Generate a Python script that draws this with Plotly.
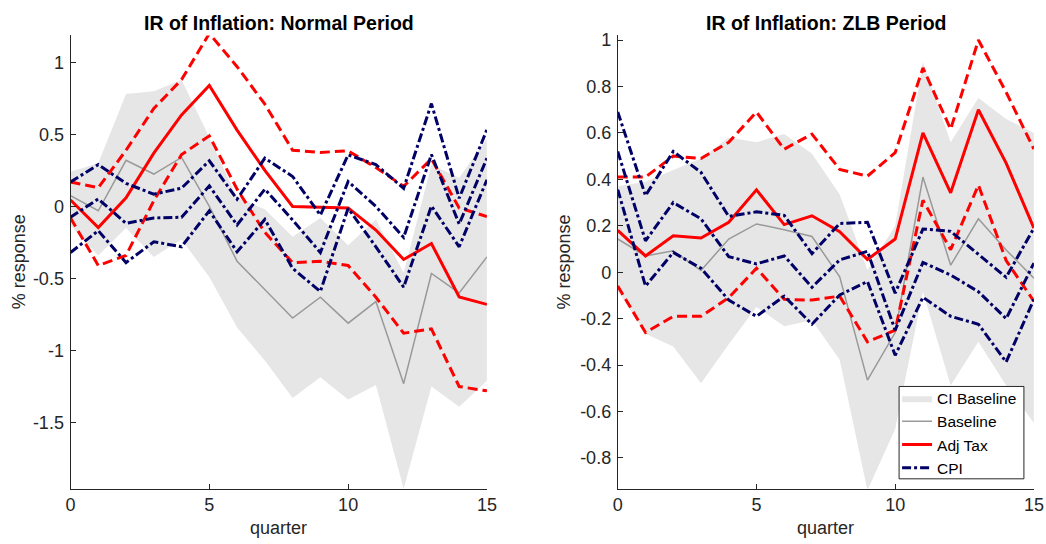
import plotly.graph_objects as go

quarters = list(range(16))

# ---------- Normal period (left) ----------
ci_up_n = [0.24, 0.30, 0.78, 0.80, 0.88, 0.48, 0.06, -0.02, -0.21, -0.08, -0.27, -0.09, -0.46, 0.29, 0.20, 0.47]
ci_lo_n = [-0.13, -0.34, -0.15, -0.35, -0.23, -0.49, -0.84, -1.07, -1.33, -1.185, -1.34, -1.24, -1.96, -1.25, -1.39, -1.21]
baseline_n = [0.075, -0.03, 0.32, 0.225, 0.34, 0.0, -0.38, -0.58, -0.775, -0.63, -0.81, -0.66, -1.23, -0.465, -0.60, -0.35]
adj_n = [0.045, -0.147, 0.06, 0.37, 0.635, 0.84, 0.53, 0.25, 0.0, -0.006, -0.01, -0.164, -0.368, -0.257, -0.628, -0.68]
adj_up_n = [0.17, 0.13, 0.39, 0.68, 0.88, 1.2, 0.97, 0.71, 0.39, 0.375, 0.386, 0.27, 0.14, 0.33, -0.01, -0.07]
adj_lo_n = [-0.08, -0.41, -0.34, 0.04, 0.36, 0.49, 0.12, -0.18, -0.39, -0.38, -0.41, -0.63, -0.88, -0.85, -1.25, -1.28]
cpi_up_n = [0.17, 0.29, 0.16, 0.085, 0.127, 0.317, 0.05, 0.335, 0.208, -0.06, 0.358, 0.29, 0.126, 0.714, 0.057, 0.533]
cpi_n = [-0.075, 0.052, -0.117, -0.08, -0.075, 0.143, -0.129, 0.12, -0.094, -0.32, 0.173, 0.0, -0.215, 0.36, -0.122, 0.335]
cpi_lo_n = [-0.32, -0.168, -0.39, -0.245, -0.28, -0.03, -0.315, -0.09, -0.43, -0.59, -0.013, -0.28, -0.56, 0.003, -0.28, 0.185]

# ---------- ZLB period (right) ----------
ci_up_z = [0.37, 0.39, 0.44, 0.49, 0.58, 0.56, 0.595, 0.51, 0.335, 0.01, 0.20, 0.905, 0.56, 0.75, 0.66, 0.60]
ci_lo_z = [-0.08, -0.265, -0.32, -0.478, -0.31, -0.15, -0.233, -0.207, -0.377, -0.94, -0.675, -0.084, -0.488, -0.30, -0.488, -0.65]
baseline_z = [0.143, 0.07, 0.092, 0.007, 0.143, 0.208, 0.183, 0.154, -0.02, -0.465, -0.26, 0.41, 0.03, 0.23, 0.096, -0.026]
adj_z = [0.18, 0.07, 0.157, 0.147, 0.215, 0.355, 0.205, 0.243, 0.174, 0.055, 0.143, 0.60, 0.342, 0.70, 0.47, 0.19]
adj_up_z = [0.41, 0.41, 0.50, 0.49, 0.56, 0.69, 0.53, 0.595, 0.443, 0.414, 0.515, 0.88, 0.616, 1.0, 0.775, 0.53]
adj_lo_z = [-0.06, -0.26, -0.19, -0.19, -0.11, 0.017, -0.117, -0.12, -0.103, -0.30, -0.25, 0.31, 0.097, 0.375, 0.05, -0.125]
cpi_up_z = [0.69, 0.33, 0.52, 0.43, 0.24, 0.26, 0.245, 0.08, 0.21, 0.215, -0.09, 0.186, 0.176, 0.075, -0.022, 0.19]
cpi_z = [0.52, 0.135, 0.30, 0.23, 0.067, 0.036, 0.07, -0.065, 0.053, 0.09, -0.25, 0.042, -0.012, -0.084, -0.2, 0.039]
cpi_lo_z = [0.356, -0.06, 0.085, 0.017, -0.12, -0.19, -0.103, -0.224, -0.098, -0.04, -0.358, -0.108, -0.19, -0.224, -0.387, -0.117]

# ---------- ticks / labels ----------
xticks = [0, 5, 10, 15]
yticks_n = [1, 0.5, 0, -0.5, -1, -1.5]
yticklabels_n = ["1", "0.5", "0", "-0.5", "-1", "-1.5"]
yticks_z = [1, 0.8, 0.6, 0.4, 0.2, 0, -0.2, -0.4, -0.6, -0.8]
yticklabels_z = ["1", "0.8", "0.6", "0.4", "0.2", "0", "-0.2", "-0.4", "-0.6", "-0.8"]
titles = ["IR of Inflation: Normal Period", "IR of Inflation: ZLB Period"]
ylabel = "% response"
xlabel = "quarter"
legend_names = ["CI Baseline", "Baseline", "Adj Tax", "CPI"]

W, H = 1046, 544
FONT = "Liberation Sans, Arial, Helvetica, sans-serif"
AX = "#262626"
GRAYFILL = "#e6e6e6"
GRAYLINE = "#999999"
RED = "#ff0000"
NAVY = "#000066"
RED_DASH = "10px,5px"
NAVY_DASH = "9px,3px,3px,3px"

# map target screen pixels -> layout pixels (compensates the page capture offset/scale)
S, OX, OY = 0.987, 3.7, 6.0
def px(x):
    return (x - OX) / S / W
def py(y):
    return 1 - (y - OY) / S / H

fig = go.Figure()

panels = [
    (ci_up_n, ci_lo_n, baseline_n, adj_n, adj_up_n, adj_lo_n, cpi_up_n, cpi_n, cpi_lo_n, "x", "y", False),
    (ci_up_z, ci_lo_z, baseline_z, adj_z, adj_up_z, adj_lo_z, cpi_up_z, cpi_z, cpi_lo_z, "x2", "y2", True),
]

for (ciu, cil, base, adj, adju, adjl, cu, cm, cl, xa, ya, leg) in panels:
    fig.add_trace(go.Scatter(
        x=quarters + quarters[::-1], y=ciu + cil[::-1], fill="toself",
        fillcolor=GRAYFILL, line=dict(width=0, color=GRAYFILL), mode="lines",
        name=legend_names[0], showlegend=leg, legendrank=1, xaxis=xa, yaxis=ya, hoverinfo="skip"))
    fig.add_trace(go.Scatter(
        x=quarters, y=base, mode="lines", line=dict(color=GRAYLINE, width=1.5),
        name=legend_names[1], showlegend=leg, legendrank=2, xaxis=xa, yaxis=ya))
    fig.add_trace(go.Scatter(
        x=quarters, y=adj, mode="lines", line=dict(color=RED, width=3),
        name=legend_names[2], showlegend=leg, legendrank=3, xaxis=xa, yaxis=ya))
    for s in (adju, adjl):
        fig.add_trace(go.Scatter(
            x=quarters, y=s, mode="lines", line=dict(color=RED, width=3, dash=RED_DASH),
            showlegend=False, xaxis=xa, yaxis=ya))
    for i, s in enumerate((cm, cu, cl)):
        fig.add_trace(go.Scatter(
            x=quarters, y=s, mode="lines", line=dict(color=NAVY, width=3, dash=NAVY_DASH),
            name=legend_names[3], showlegend=(leg and i == 0), legendrank=4, xaxis=xa, yaxis=ya))

dom_x1 = [px(69.3), px(486.3)]
dom_x2 = [px(617.3), px(1034)]
dom_y = [py(487.7), py(36.3)]

axis_common = dict(
    showline=True, linecolor=AX, linewidth=1, ticks="inside", ticklen=5, tickcolor=AX,
    tickfont=dict(family=FONT, size=18, color=AX), showgrid=False, zeroline=False,
    mirror=False, fixedrange=True,
)

fig.update_layout(
    width=W, height=H, margin=dict(l=0, r=0, t=0, b=0),
    paper_bgcolor="white", plot_bgcolor="white",
    font=dict(family=FONT, size=18, color=AX),
    xaxis=dict(domain=dom_x1, range=[0, 15], tickvals=xticks, anchor="y", **axis_common),
    yaxis=dict(domain=dom_y, range=[-1.958, 1.187], tickvals=yticks_n, ticktext=yticklabels_n,
               anchor="x", ticklabelstandoff=2, **axis_common),
    xaxis2=dict(domain=dom_x2, range=[0, 15], tickvals=xticks, anchor="y2", **axis_common),
    yaxis2=dict(domain=dom_y, range=[-0.932, 1.02], tickvals=yticks_z, ticktext=yticklabels_z,
                anchor="x2", ticklabelstandoff=2, **axis_common),
    legend=dict(x=px(897), y=py(432.5), xanchor="left", yanchor="middle",
                bgcolor="rgba(0,0,0,0)", borderwidth=0, itemwidth=30,
                font=dict(family=FONT, size=15.5, color="black"), tracegroupgap=0),
    showlegend=True,
)

# legend frame
fig.add_shape(type="rect", xref="paper", yref="paper", x0=px(899), x1=px(1024), y0=py(478), y1=py(386),
              fillcolor="white", line=dict(color=AX, width=1), layer="above")

for dx, t in ((dom_x1, titles[0]), (dom_x2, titles[1])):
    cx = (dx[0] + dx[1]) / 2
    fig.add_annotation(text="<b>" + t + "</b>", x=cx, y=py(23.5), xref="paper", yref="paper",
                       showarrow=False, xanchor="center", yanchor="middle",
                       font=dict(family=FONT, size=19.5, color="black"))
    fig.add_annotation(text=xlabel, x=cx, y=py(527), xref="paper", yref="paper",
                       showarrow=False, xanchor="center", yanchor="middle",
                       font=dict(family=FONT, size=18, color=AX))

cy = (dom_y[0] + dom_y[1]) / 2
for lx in (18, 563):
    fig.add_annotation(text=ylabel, x=px(lx), y=cy, xref="paper", yref="paper", textangle=-90,
                       showarrow=False, xanchor="center", yanchor="middle",
                       font=dict(family=FONT, size=18, color=AX))

fig.write_html("out.html", config={"displayModeBar": False},
               post_script="document.body.style.margin='0';document.body.style.overflow='hidden';")
